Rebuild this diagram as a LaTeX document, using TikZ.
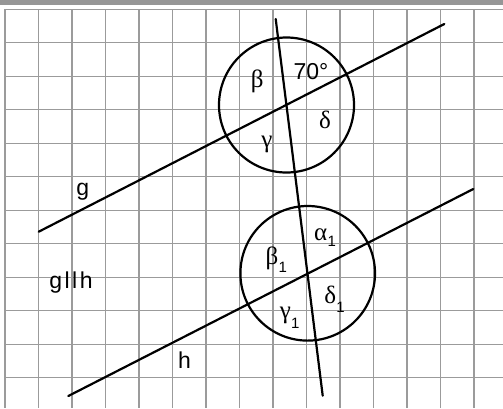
\documentclass[tikz,border=0pt]{standalone}
\usepackage{fontspec}
\setmainfont{Liberation Serif}
\newfontfamily\lsans{Liberation Sans}
\definecolor{gridgray}{RGB}{155,155,155}
\definecolor{bargray}{RGB}{150,150,150}
\newcommand\lblsub[2]{\kern0.3bp\raisebox{#1}{\lsans\fontsize{15bp}{18bp}\selectfont #2}}
\begin{document}
\begin{tikzpicture}[x=1bp,y=-1bp,
  gridline/.style={draw=gridgray, line width=1.3bp},
  geo/.style={draw=black, line width=2.2bp},
  greek/.style={font=\fontsize{25bp}{28bp}\selectfont, anchor=base, inner sep=0pt},
  latin/.style={font=\lsans\fontsize{23bp}{28bp}\selectfont, anchor=base, inner sep=0pt}]
\useasboundingbox[fill=white] (0,0) rectangle (503,408);
% top bar
\fill[bargray] (0,0) rectangle (503,4.5);
% grid
\foreach \k in {0,...,14} \draw[gridline] (5+33.5*\k,9.3) -- (5+33.5*\k,408);
\foreach \k in {0,...,11} \draw[gridline] (5,9.3+33.5*\k) -- (503,9.3+33.5*\k);
% geometry
\coordinate (g1) at (38.7,231.7);
\coordinate (g2) at (444.3,24);
\coordinate (h1) at (68.3,396);
\coordinate (h2) at (473.3,189);
\coordinate (t1) at (275.7,19);
\coordinate (t2) at (322.7,395.7);
\coordinate (c1) at (286.5,105);
\coordinate (c2) at (307.7,273.3);
\draw[geo, line cap=round] (g1) -- (g2);
\draw[geo, line cap=round] (h1) -- (h2);
\draw[geo, line cap=round] (t1) -- (t2);
\draw[geo] (c1) circle[radius=67.5];
\draw[geo] (c2) circle[radius=67.3];
% labels
\node[latin] (l70) at (311,79) {70°};
\node[latin] (lg) at (82.7,195.2) {g};
\node[latin] (lgh) at (71,288.3) {g\kern2.5bp l\kern2.5bp l\kern2.5bp h};
\node[latin] (lh) at (184.5,368) {h};
\node[greek] (beta) at (257.2,87) {β};
\node[greek] (gamma) at (267,147) {γ};
\node[greek] (delta) at (325,128.3) {δ};
\node[greek] (alpha1) at (325,240.3) {α\lblsub{-5.7bp}{1}};
\node[greek] (beta1) at (276.3,264) {β\lblsub{-8bp}{1}};
\node[greek] (delta1) at (334.5,303.7) {δ\lblsub{-8.3bp}{1}};
\node[greek] (gamma1) at (289.7,318.3) {γ\lblsub{-10.4bp}{1}};
\end{tikzpicture}
\end{document}
